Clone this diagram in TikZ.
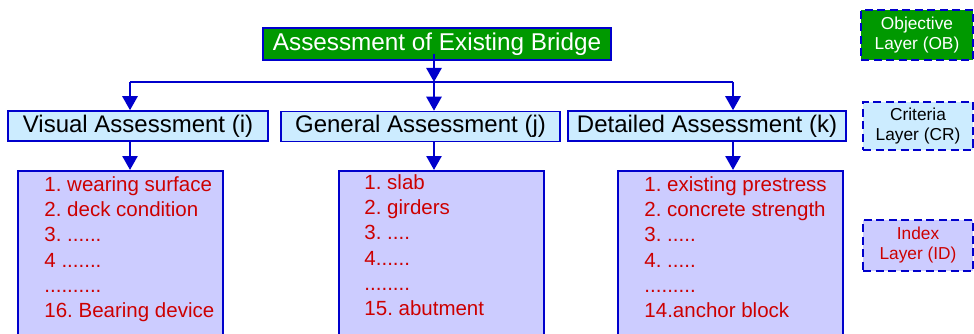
\documentclass[tikz,border=0pt]{standalone}
\usepackage{fontspec}
\setmainfont{Liberation Sans}
\usetikzlibrary{arrows.meta,positioning}

\definecolor{goalgreen}{RGB}{0,153,0}
\definecolor{critblue}{RGB}{204,236,255}
\definecolor{idxlilac}{RGB}{204,204,255}
\definecolor{linkblue}{RGB}{0,0,204}
\definecolor{itemred}{RGB}{204,0,0}
\frenchspacing

\begin{document}
\begin{tikzpicture}[
  x=1pt, y=-1pt,
  goal/.style={
    draw=linkblue,
    line width=1.5pt,
    fill=goalgreen,
    text=white,
    font=\fontsize{24.3}{28}\selectfont,
    inner sep=0pt,
    minimum width=348pt,
    minimum height=32pt
  },
  crit/.style={
    draw=linkblue,
    line width=1.5pt,
    fill=critblue,
    font=\fontsize{24}{28}\selectfont,
    inner sep=0pt,
    minimum height=30pt
  },
  ibox/.style={
    draw=linkblue,
    line width=1.5pt,
    fill=idxlilac,
    anchor=north,
    inner sep=0pt,
    minimum height=180pt
  },
  items/.style={
    text=itemred,
    align=left,
    anchor=north west,
    inner sep=0pt,
    font=\fontsize{20.5}{25.2}\selectfont
  },
  layer/.style={
    draw=linkblue,
    line width=2.8pt,
    dash pattern=on 8pt off 4.5pt,
    align=center,
    inner sep=0pt,
    minimum width=110pt,
    font=\fontsize{17.3}{20}\selectfont
  },
  arrow/.style={-{Triangle[length=14pt,width=15pt]}, line width=2.6pt, draw=linkblue},
  bus/.style={line width=2.6pt, draw=linkblue}
]
\clip (0,0) rectangle (974,334);

% objective and criteria layers
\node[goal] (goal) at (437,44) {Assessment of Existing Bridge};
\node[crit, minimum width=260pt] (visual) at (138,126) {Visual Assessment (i)};
\node[crit, minimum width=279pt] (general) at (420.5,126.5) {General Assessment (j)};
\node[crit, minimum width=278pt] (detailed) at (707,126) {Detailed Assessment (k)};

% index layer
\node[ibox, minimum width=205pt] (vbox) at (120.5,170) {};
\node[ibox, minimum width=205pt] (gbox) at (441.5,170) {};
\node[ibox, minimum width=225pt] (dbox) at (730.5,170) {};

\node[items] (vlist) at ([xshift=27pt,yshift=-6.5pt]vbox.north west)
  {1. wearing surface\\2. deck condition\\3. ......\\4 .......\\..........\\16. Bearing device};
\node[items] (glist) at ([xshift=26pt,yshift=-4.5pt]gbox.north west)
  {1. slab\\2. girders\\3. ....\\4......\\........\\15. abutment};
\node[items] (dlist) at ([xshift=27pt,yshift=-6.5pt]dbox.north west)
  {1. existing prestress\\2. concrete strength\\3. .....\\4. .....\\.........\\14.anchor block};

% connectors
\coordinate (bus1) at (130,82);
\coordinate (bus2) at (434,82);
\coordinate (bus3) at (733,82);

\draw[bus] (bus1) -- (bus3);
\draw[arrow] ([yshift=7pt]goal.south -| bus2) -- (bus2);
\draw[arrow] (bus1) -- (bus1 |- visual.north);
\draw[arrow] (bus2) -- (bus2 |- general.north);
\draw[arrow] (bus3) -- (bus3 |- detailed.north);
\draw[arrow] (bus1 |- visual.south) -- (bus1 |- vbox.north);
\draw[arrow] (bus2 |- general.south) -- (bus2 |- gbox.north);
\draw[arrow] (bus3 |- detailed.south) -- (bus3 |- dbox.north);

% layer legend
\node[layer, fill=goalgreen, text=white, minimum width=112pt, minimum height=50pt] (ob) at (917,35) {Objective\\Layer (OB)};
\node[layer, fill=critblue, minimum height=48pt] (cr) at (918,126) {Criteria\\Layer (CR)};
\node[layer, fill=idxlilac, text=itemred, minimum height=51pt] (id) at (918,245.5) {Index\\Layer (ID)};

\end{tikzpicture}
\end{document}
